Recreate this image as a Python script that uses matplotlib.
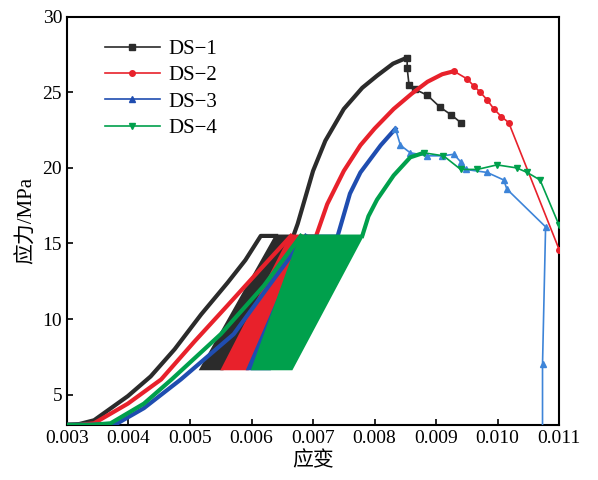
import matplotlib
matplotlib.use("Agg")
import matplotlib.pyplot as plt

plt.rcParams['font.family'] = ['Liberation Serif', 'Noto Sans CJK SC', 'DejaVu Sans']
plt.rcParams['axes.unicode_minus'] = False

labels = ["DS\u22121", "DS\u22122", "DS\u22123", "DS\u22124"]
colors = ["#2b2b2b", "#e8212b", "#1f4db0", "#00a04c"]
markers = ["s", "o", "^", "v"]

# first loading curves (strain, stress MPa)
ds1_pre_x = [0.0030, 0.0032, 0.00344, 0.00399, 0.00436, 0.00475, 0.00518, 0.00561, 0.0059, 0.00615, 0.0064]
ds1_pre_y = [3.0, 3.05, 3.3, 4.9, 6.2, 8.0, 10.3, 12.4, 13.9, 15.5, 15.5]
ds2_pre_x = [0.0030, 0.0032, 0.00344, 0.00399, 0.00453, 0.00507, 0.00561, 0.0061, 0.00664]
ds2_pre_y = [3.0, 3.0, 3.1, 4.4, 6.0, 8.5, 10.9, 13.1, 15.5]
ds3_pre_x = [0.0030, 0.0034, 0.0038, 0.00425, 0.00485, 0.00571, 0.0063, 0.00688]
ds3_pre_y = [3.0, 3.0, 3.05, 4.1, 6.0, 9.0, 12.3, 15.5]
ds4_pre_x = [0.0030, 0.0034, 0.00371, 0.00425, 0.0047, 0.0055, 0.0062, 0.0068]
ds4_pre_y = [3.0, 3.0, 3.1, 4.4, 6.0, 9.0, 12.2, 15.5]

# cyclic band corners: top-left, top-right, bottom-right, bottom-left
ds1_band_x = [0.0064, 0.00668, 0.00553, 0.00518]
ds2_band_x = [0.00664, 0.00705, 0.00594, 0.00553]
ds3_band_x = [0.00688, 0.0074, 0.0063, 0.00594]
ds4_band_x = [0.0068, 0.0078, 0.00665, 0.00602]
band_y = [15.5, 15.5, 6.7, 6.7]

# post-cycling envelope to peak
ds1_post_x = [0.00668, 0.00675, 0.0070, 0.0072, 0.0075, 0.0078, 0.00804, 0.0083, 0.00853]
ds1_post_y = [15.5, 16.3, 19.8, 21.8, 23.9, 25.3, 26.1, 26.9, 27.3]
ds2_post_x = [0.00705, 0.00723, 0.0075, 0.00777, 0.0080, 0.00831, 0.0086, 0.00886, 0.0091, 0.00929]
ds2_post_y = [15.5, 17.6, 19.8, 21.5, 22.6, 23.9, 24.9, 25.7, 26.2, 26.4]
ds3_post_x = [0.0074, 0.0076, 0.00777, 0.0081, 0.00834]
ds3_post_y = [15.5, 18.3, 19.7, 21.5, 22.6]
ds4_post_x = [0.0078, 0.0079, 0.00804, 0.00831, 0.00858, 0.0088]
ds4_post_y = [15.5, 16.8, 17.9, 19.5, 20.7, 21.0]

# post-peak tail
ds1_tail_x = [0.00853, 0.00853, 0.00856, 0.00866, 0.00886, 0.00907, 0.00925, 0.0094]
ds1_tail_y = [27.3, 26.6, 25.5, 25.2, 24.8, 24.0, 23.5, 23.0]
ds2_tail_x = [0.00929, 0.0095, 0.00962, 0.00972, 0.00983, 0.00994, 0.01006, 0.01018, 0.0110]
ds2_tail_y = [26.4, 25.9, 25.4, 25.0, 24.5, 23.9, 23.4, 23.0, 14.6]
ds3_tail_x = [0.00834, 0.00842, 0.00858, 0.00886, 0.0091, 0.00929, 0.0094, 0.00948, 0.00983, 0.0101, 0.01015, 0.01078, 0.01073, 0.01073]
ds3_tail_y = [22.6, 21.5, 21.0, 20.8, 20.8, 20.9, 20.4, 19.9, 19.7, 19.2, 18.6, 16.1, 7.0, 2.0]
ds4_tail_x = [0.0088, 0.00912, 0.0094, 0.00967, 0.00999, 0.01031, 0.01048, 0.01069, 0.0110]
ds4_tail_y = [21.0, 20.8, 19.9, 19.9, 20.2, 20.0, 19.7, 19.2, 16.2]

series = [
    (ds1_pre_x, ds1_pre_y, ds1_band_x, ds1_post_x, ds1_post_y, ds1_tail_x, ds1_tail_y),
    (ds2_pre_x, ds2_pre_y, ds2_band_x, ds2_post_x, ds2_post_y, ds2_tail_x, ds2_tail_y),
    (ds3_pre_x, ds3_pre_y, ds3_band_x, ds3_post_x, ds3_post_y, ds3_tail_x, ds3_tail_y),
    (ds4_pre_x, ds4_pre_y, ds4_band_x, ds4_post_x, ds4_post_y, ds4_tail_x, ds4_tail_y),
]

fig = plt.figure(figsize=(5.98, 4.8), dpi=100)
ax = fig.add_axes([0.112, 0.115, 0.823, 0.85])

for i, (px, py, bx, qx, qy, tx, ty) in enumerate(series):
    c = colors[i]
    z = 2 + i
    ax.fill(bx, band_y, color=c, lw=2.0, ec=c, zorder=z)
    ax.plot(px, py, color=c, lw=3.0, zorder=z, solid_joinstyle='round')
    ax.plot(qx, qy, color=c, lw=3.0, zorder=z, solid_joinstyle='round')
    tail_color = "#3d84d8" if i == 2 else c
    ax.plot(tx, ty, color=tail_color, lw=1.2, marker=markers[i], ms=4, zorder=z)
    ax.plot([], [], color=c, lw=1.2, marker=markers[i], ms=4, label=labels[i])

ax.set_xlim(0.003, 0.011)
ax.set_ylim(3, 30)
ax.set_xticks([0.003, 0.004, 0.005, 0.006, 0.007, 0.008, 0.009, 0.010, 0.011])
ax.set_xticklabels(["0.003", "0.004", "0.005", "0.006", "0.007", "0.008", "0.009", "0.010", "0.011"])
ax.set_yticks([5, 10, 15, 20, 25, 30])
ax.tick_params(direction='in', length=4, width=1.2, labelsize=14, top=False, right=False)
for s in ax.spines.values():
    s.set_linewidth(1.5)
ax.set_xlabel("应变", fontsize=15, labelpad=4)
ax.set_ylabel("应力/MPa", fontsize=15, labelpad=4)

leg = ax.legend(loc='upper left', bbox_to_anchor=(0.04, 0.99), frameon=False, fontsize=15,
                handlelength=2.6, handletextpad=0.4, labelspacing=0.32)

fig.savefig("out.png", dpi=100)
